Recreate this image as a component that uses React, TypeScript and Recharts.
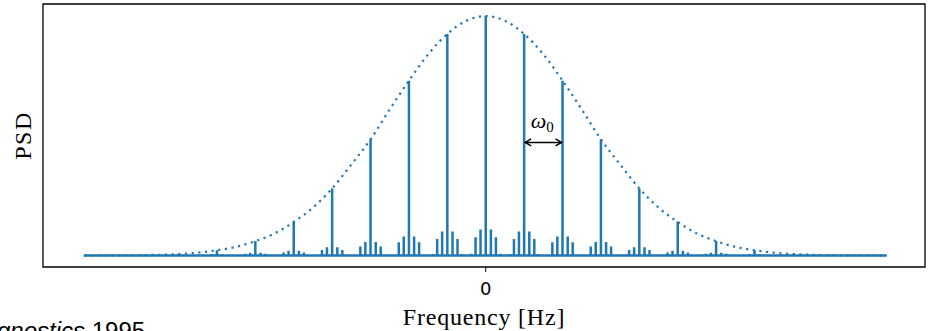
import { ComposedChart, Line, XAxis, YAxis, ReferenceArea, ReferenceLine } from 'recharts';

// comb orders (in units of w0) and the peak height of each main line
const orders = [-8, -7, -6, -5, -4, -3, -2, -1, 0, 1, 2, 3, 4, 5, 6, 7, 8];
const peakPsd = [0.006, 0.022, 0.061, 0.142, 0.28, 0.485, 0.73, 0.925, 1.0, 0.925, 0.73, 0.485, 0.28, 0.142, 0.061, 0.022, 0.006];

// small sidebands around every main line, indexed by |order|
const sidebandOffsets = [0.135, 0.265, 0.375];
const side1Psd = [0.109, 0.1, 0.079, 0.056, 0.034, 0.02, 0.012, 0.006, 0.003];
const side2Psd = [0.076, 0.069, 0.055, 0.038, 0.023, 0.013, 0.007, 0.004, 0.002];
const side3Psd = [0.007, 0.006, 0.005, 0.004, 0.003, 0.002, 0.001, 0.0005, 0.0003];

// frequency span of the plotted trace
const traceRange = [-10.47, 10.44];

// dotted gaussian envelope
const envFreq = [-10.45, -10, -9.5, -9, -8.5, -8, -7.5, -7, -6.5, -6, -5.5, -5, -4.5, -4, -3.5, -3, -2.5, -2, -1.5, -1, -0.5, 0,
  0.5, 1, 1.5, 2, 2.5, 3, 3.5, 4, 4.5, 5, 5.5, 6, 6.5, 7, 7.5, 8, 8.5, 9, 9.5, 10, 10.45];
const envPsd = [0, 0.0002, 0.0006, 0.0015, 0.003, 0.006, 0.012, 0.022, 0.036, 0.06, 0.092, 0.14, 0.2, 0.28, 0.38, 0.485, 0.61, 0.73, 0.84, 0.925, 0.98, 1.0,
  0.98, 0.925, 0.84, 0.73, 0.61, 0.485, 0.38, 0.28, 0.2, 0.14, 0.092, 0.06, 0.036, 0.022, 0.012, 0.006, 0.003, 0.0015, 0.0006, 0.0002, 0];

// w0 annotation: spans order 1 -> 2
const annotationSpan = [1, 2];
const annotationLevel = 0.472;

const xDomain = [-11.53, 11.44];
const yDomain = [-0.048, 1.05];
const blue = '#1f77b4';
const serif = '"Liberation Serif", "Times New Roman", serif';

const spectrum: { f: number; psd: number }[] = [{ f: traceRange[0], psd: 0 }];
orders.forEach((k, i) => {
  const a = Math.abs(k);
  const sides = [side1Psd[a], side2Psd[a], side3Psd[a]];
  const spikes: [number, number][] = [
    [-sidebandOffsets[2], sides[2]],
    [-sidebandOffsets[1], sides[1]],
    [-sidebandOffsets[0], sides[0]],
    [0, peakPsd[i]],
    [sidebandOffsets[0], sides[0]],
    [sidebandOffsets[1], sides[1]],
    [sidebandOffsets[2], sides[2]],
  ];
  spikes.forEach(([off, h]) => {
    const f = k + off;
    spectrum.push({ f, psd: 0 }, { f, psd: h }, { f, psd: 0 });
  });
});
spectrum.push({ f: traceRange[1], psd: 0 });

const envelope = envFreq.map((f, i) => ({ f, psd: envPsd[i] }));

const ArrowShape = (props: any) => {
  const { x1, y1, x2 } = props;
  const head = 6;
  const hw = 3.5;
  const mid = (x1 + x2) / 2;
  return (
    <g>
      <line x1={x1 + 1} y1={y1} x2={x2 - 1} y2={y1} stroke="#000" strokeWidth={1.5} />
      <polyline points={`${x1 + 1 + head},${y1 - hw} ${x1 + 1},${y1} ${x1 + 1 + head},${y1 + hw}`} fill="none" stroke="#000" strokeWidth={1.5} />
      <polyline points={`${x2 - 1 - head},${y1 - hw} ${x2 - 1},${y1} ${x2 - 1 - head},${y1 + hw}`} fill="none" stroke="#000" strokeWidth={1.5} />
      <text x={mid - 1} y={y1 - 14} textAnchor="middle" fontFamily={serif} fill="#000">
        <tspan fontSize={22} fontStyle="italic">ω</tspan>
        <tspan fontSize={15} dy={4}>0</tspan>
      </text>
    </g>
  );
};

const xLabel = (props: any) => {
  const vb = props.viewBox || { x: 43, y: 267, width: 882, height: 64 };
  return (
    <text x={vb.x + vb.width / 2} y={vb.y + 58} textAnchor="middle" fontFamily={serif} fontSize={24} letterSpacing={0.8} fill="#000">
      Frequency [Hz]
    </text>
  );
};

const yLabel = (props: any) => {
  const vb = props.viewBox || { x: 0, y: 4, width: 43, height: 263 };
  const cx = vb.x + 30.5;
  const cy = vb.y + vb.height / 2;
  return (
    <text x={cx} y={cy} transform={`rotate(-90 ${cx} ${cy})`} textAnchor="middle" fontFamily={serif} fontSize={24} letterSpacing={1.5} fill="#000">
      PSD
    </text>
  );
};

export default function App() {
  return (
    <div style={{ position: 'absolute', left: 0, top: 0, width: 928, height: 331, overflow: 'hidden', background: '#fff' }}>
      <ComposedChart width={928} height={331} margin={{ top: 4, right: 3, bottom: 0, left: 0 }}>
        <XAxis
          dataKey="f"
          type="number"
          domain={xDomain}
          allowDataOverflow
          ticks={[0]}
          height={64}
          axisLine={false}
          tickLine={{ stroke: '#000', strokeWidth: 1 }}
          tickSize={5}
          tickMargin={10}
          tick={{ fill: '#000', fontSize: 18, fontFamily: '"DejaVu Sans", sans-serif' }}
          label={xLabel}
        />
        <YAxis
          type="number"
          domain={yDomain}
          allowDataOverflow
          width={43}
          tick={false}
          tickLine={false}
          axisLine={false}
          label={yLabel}
        />
        <Line
          data={spectrum}
          dataKey="psd"
          type="linear"
          stroke={blue}
          strokeWidth={2.5}
          strokeLinejoin="bevel"
          dot={false}
          activeDot={false}
          isAnimationActive={false}
        />
        <Line
          data={envelope}
          dataKey="psd"
          type="monotone"
          stroke={blue}
          strokeWidth={2.2}
          strokeDasharray="2.2 4.5"
          dot={false}
          activeDot={false}
          isAnimationActive={false}
        />
        <ReferenceLine
          segment={[
            { x: annotationSpan[0], y: annotationLevel },
            { x: annotationSpan[1], y: annotationLevel },
          ]}
          shape={ArrowShape}
          ifOverflow="visible"
        />
        <ReferenceArea
          x1={xDomain[0]}
          x2={xDomain[1]}
          y1={yDomain[0]}
          y2={yDomain[1]}
          fill="none"
          stroke="#000"
          strokeWidth={1.3}
          fillOpacity={0}
          ifOverflow="visible"
        />
      </ComposedChart>
      <svg width={928} height={331} style={{ position: 'absolute', left: 0, top: 0, pointerEvents: 'none' }}>
        <text x={-3} y={339} fontFamily='"Liberation Sans", Arial, sans-serif' fontSize={24} fill="#000">
          <tspan fontStyle="italic">gnostics</tspan> 1995
        </text>
      </svg>
    </div>
  );
}
